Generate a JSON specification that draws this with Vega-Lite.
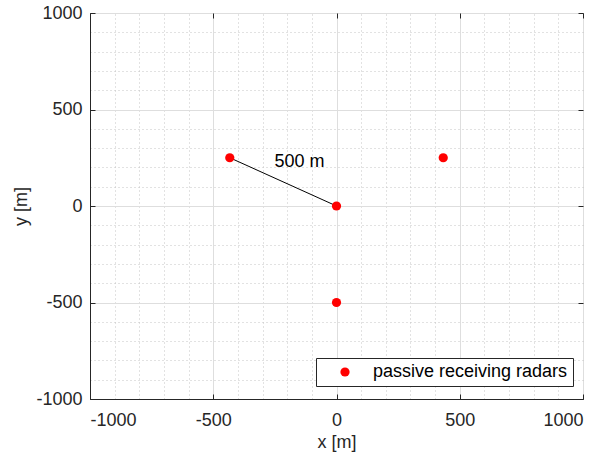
{
  "$schema": "https://vega.github.io/schema/vega-lite/v6.json",
  "width": 493,
  "height": 386,
  "autosize": {"type": "none"},
  "padding": {"left": 90, "top": 13, "right": 32, "bottom": 58},
  "background": "white",
  "config": {
    "font": "Liberation Sans",
    "view": {"stroke": "#262626", "strokeWidth": 1},
    "axis": {
      "labelFont": "Liberation Sans",
      "titleFont": "Liberation Sans",
      "labelFontSize": 18,
      "titleFontSize": 18,
      "titleFontWeight": "normal",
      "labelColor": "#262626",
      "titleColor": "#262626",
      "domainColor": "#262626",
      "tickColor": "#262626"
    }
  },
  "datasets": {
    "radars": [
      {"x": -433, "y": 250, "type": "passive receiving radars"},
      {"x": 0, "y": 0, "type": "passive receiving radars"},
      {"x": 433, "y": 250, "type": "passive receiving radars"},
      {"x": 0, "y": -500, "type": "passive receiving radars"}
    ],
    "segment": [
      {"x": -433, "y": 250},
      {"x": 0, "y": 0}
    ],
    "note": [
      {"x": -150, "y": 230, "label": "500 m"}
    ]
  },
  "layer": [
    {
      "data": {"name": "radars"},
      "mark": {"type": "point", "opacity": 0},
      "encoding": {
        "x": {"field": "x", "type": "quantitative", "scale": {"domain": [-1000, 1000], "nice": false},
          "axis": {"orient": "top", "values": [-900,-800,-700,-600,-400,-300,-200,-100,100,200,300,400,600,700,800,900],
            "grid": true, "gridColor": "#c4c4c4", "gridDash": [1, 3], "gridWidth": 1,
            "labels": false, "ticks": false, "domain": false, "title": null}},
        "y": {"field": "y", "type": "quantitative", "scale": {"domain": [-1000, 1000], "nice": false},
          "axis": {"orient": "right", "values": [-900,-800,-700,-600,-400,-300,-200,-100,100,200,300,400,600,700,800,900],
            "grid": true, "gridColor": "#c4c4c4", "gridDash": [1, 3], "gridWidth": 1,
            "labels": false, "ticks": false, "domain": false, "title": null}}
      }
    },
    {
      "data": {"name": "radars"},
      "mark": {"type": "point", "opacity": 0},
      "encoding": {
        "x": {"field": "x", "type": "quantitative",
          "axis": {"orient": "top", "values": [-1000, -500, 0, 500, 1000], "grid": false,
            "labels": false, "ticks": true, "tickSize": -5, "domain": false, "title": null}},
        "y": {"field": "y", "type": "quantitative",
          "axis": {"orient": "right", "values": [-1000, -500, 0, 500, 1000], "grid": false,
            "labels": false, "ticks": true, "tickSize": -5, "domain": false, "title": null}}
      }
    },
    {
      "data": {"name": "segment"},
      "mark": {"type": "line", "color": "black", "strokeWidth": 1},
      "encoding": {
        "x": {"field": "x", "type": "quantitative", "scale": {"domain": [-1000, 1000], "nice": false},
          "axis": {"orient": "bottom", "values": [-1000, -500, 0, 500, 1000], "grid": true, "gridColor": "#dedede",
            "labelExpr": "'' + datum.value",
            "tickSize": -5, "labelPadding": 17, "title": "x [m]", "titlePadding": 4}},
        "y": {"field": "y", "type": "quantitative", "scale": {"domain": [-1000, 1000], "nice": false},
          "axis": {"orient": "left", "values": [-1000, -500, 0, 500, 1000], "grid": true, "gridColor": "#dedede",
            "labelExpr": "'' + datum.value",
            "tickSize": -5, "labelPadding": 13, "title": "y [m]", "titlePadding": 5}}
      }
    },
    {
      "data": {"name": "radars"},
      "mark": {"type": "circle", "size": 85, "opacity": 1},
      "encoding": {
        "x": {"field": "x", "type": "quantitative", "axis": null},
        "y": {"field": "y", "type": "quantitative", "axis": null},
        "color": {"field": "type", "type": "nominal",
          "scale": {"domain": ["passive receiving radars"], "range": ["#ff0000"]},
          "legend": {"title": null, "orient": "none", "legendX": 226, "legendY": 345,
            "strokeColor": "#262626", "fillColor": "white", "padding": 5,
            "labelFont": "Liberation Sans", "labelFontSize": 18, "labelColor": "#000000",
            "symbolOffset": 15, "symbolSize": 85, "labelOffset": 19, "symbolType": "circle", "labelLimit": 400}}
      }
    },
    {
      "data": {"name": "note"},
      "mark": {"type": "text", "fontSize": 18, "font": "Liberation Sans", "color": "black", "baseline": "middle", "align": "center"},
      "encoding": {
        "x": {"field": "x", "type": "quantitative", "axis": null},
        "y": {"field": "y", "type": "quantitative", "axis": null},
        "text": {"field": "label"}
      }
    }
  ],
  "resolve": {"axis": {"x": "independent", "y": "independent"}}
}
